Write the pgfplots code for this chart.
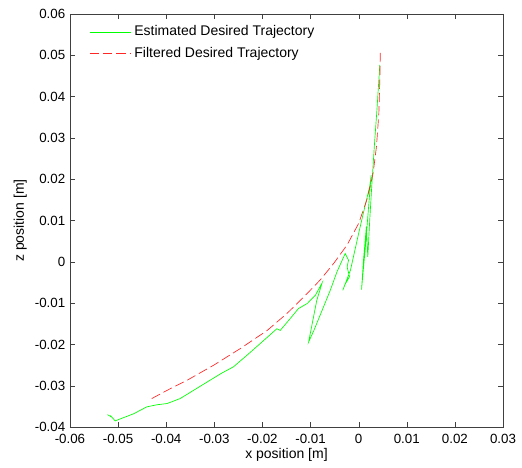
\documentclass[border=0pt]{standalone}
\usepackage{fontspec}
\setmainfont{Liberation Sans}
\usepackage{pgfplots}
\pgfplotsset{compat=1.18}

\begin{document}
\begin{tikzpicture}
\begin{axis}[
    name=ax,
    scale only axis,
    width=325pt,
    height=310pt,
    xmin=-0.06, xmax=0.03,
    ymin=-0.04, ymax=0.06,
    scaled ticks=false,
    xtick={-0.06,-0.05,-0.04,-0.03,-0.02,-0.01,0,0.01,0.02,0.03},
    xticklabels={-0.06,-0.05,-0.04,-0.03,-0.02,-0.01,0,0.01,0.02,0.03},
    ytick={-0.04,-0.03,-0.02,-0.01,0,0.01,0.02,0.03,0.04,0.05,0.06},
    yticklabels={-0.04,-0.03,-0.02,-0.01,0,0.01,0.02,0.03,0.04,0.05,0.06},
    tick align=inside,
    major tick length=4pt,
    axis line style={black!75},
    tick style={black!75},
    tick label style={font=\fontsize{10}{12}\selectfont},
    xticklabel style={yshift=-1.5pt},
    label style={font=\fontsize{10.5}{13}\selectfont},
    xlabel={x position [m]},
    ylabel={z position [m]},
    xlabel style={at={(axis description cs:0.5,-0.068)}, anchor=center},
    ylabel style={at={(axis description cs:-0.115,0.5)}, anchor=center},
    legend style={draw=none, fill=none, at={(0.035,0.985)}, anchor=north west,
        font=\fontsize{10.5}{13}\selectfont, row sep=3pt},
    legend cell align=left,
    legend image code/.code={\draw[mark repeat=2,mark phase=2,#1] plot coordinates {(0cm,0cm) (0.55cm,0cm) (1.1cm,0cm)};},
]
\addplot[color=green, line width=0.5pt] coordinates {
    (-0.0522,-0.0370) (-0.0513,-0.0376) (-0.0516,-0.0372) (-0.0506,-0.0385)
    (-0.0495,-0.0380) (-0.0468,-0.0368) (-0.0440,-0.0351) (-0.0419,-0.0346)
    (-0.0398,-0.0343) (-0.0371,-0.0331) (-0.0343,-0.0311) (-0.0315,-0.0291)
    (-0.0284,-0.0269) (-0.0260,-0.0254) (-0.0232,-0.0226) (-0.0197,-0.0190)
    (-0.0170,-0.0162) (-0.0163,-0.0166) (-0.0142,-0.0137) (-0.0125,-0.0113)
    (-0.0107,-0.0101) (-0.0090,-0.0081) (-0.0076,-0.0051) (-0.0087,-0.0093)
    (-0.0104,-0.0194) (-0.0093,-0.0166) (-0.0059,-0.0069) (-0.0045,-0.0024)
    (-0.0028,0.0020) (-0.0021,0.0004) (-0.0024,-0.0012) (-0.0019,-0.0036)
    (-0.0029,-0.0056) (-0.0033,-0.0069) (-0.0017,-0.0020) (0.0000,0.0069)
    (0.0013,0.0134) (0.0023,0.0182) (0.0026,0.0210) (0.0019,0.0109)
    (0.0014,0.0036) (0.0006,-0.0067) (0.0010,0.0004) (0.0016,0.0085)
    (0.0019,0.0012) (0.0023,0.0101) (0.0028,0.0198) (0.0033,0.0287)
    (0.0038,0.0368) (0.0042,0.0441) (0.0044,0.0477)
};
\addlegendentry{Estimated Desired Trajectory}
\addplot[color=red!85, line width=0.5pt, dash pattern=on 7pt off 3pt] coordinates {
    (-0.0430,-0.0331) (-0.0398,-0.0311) (-0.0357,-0.0287) (-0.0301,-0.0250)
    (-0.0246,-0.0210) (-0.0190,-0.0166) (-0.0149,-0.0125) (-0.0114,-0.0085)
    (-0.0080,-0.0044) (-0.0052,-0.0004) (-0.0024,0.0041) (0.0000,0.0093)
    (0.0017,0.0150) (0.0030,0.0214) (0.0037,0.0279) (0.0042,0.0360)
    (0.0044,0.0441) (0.0045,0.0507)
};
\addlegendentry{Filtered Desired Trajectory}
\end{axis}
\path (ax.south west) ++(-52.5pt,-30pt) coordinate (bbA);
\path (ax.north east) ++(14.25pt,10.5pt) coordinate (bbB);
\end{tikzpicture}
\end{document}
